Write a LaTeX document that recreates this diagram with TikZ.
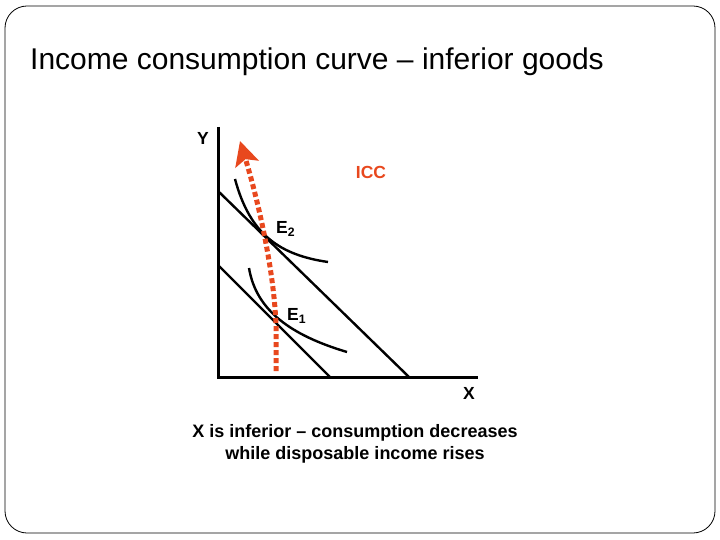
\documentclass[tikz,border=0pt]{standalone}
\usepackage{fontspec}
\setmainfont{Liberation Sans}
\usetikzlibrary{arrows.meta}
\definecolor{iccred}{RGB}{232,72,30}
\begin{document}
\begin{tikzpicture}[x=1pt, y=-1pt, >=Stealth,
    axis/.style={line width=3pt},
    budget/.style={line width=2.4pt},
    indiff/.style={line width=2.4pt},
    lbl/.style={font=\fontsize{17.5}{20}\selectfont\bfseries, inner sep=0pt}]
        \useasboundingbox (0,0) rectangle (720,540);
        \draw[line width=0.8pt, rounded corners=22pt] (5,6) rectangle (715,533);
        \node[anchor=base west, inner sep=0pt, font=\fontsize{30}{33}\selectfont] (title) at (30,70) {Income consumption curve -- inferior goods};
        % axes
        \coordinate (origin) at (218,377);
        \coordinate (ytop) at (218,127);
        \coordinate (xend) at (478,377);
        \draw[axis] (ytop) -- (origin) -- (xend);
        \node[lbl] (ylab) at (203,138) {Y};
        \node[lbl] (xlab) at (469,393) {X};
        % budget lines
        \coordinate (b2y) at (218,191);
        \coordinate (b2x) at (409,377);
        \coordinate (b1y) at (218,265);
        \coordinate (b1x) at (330,377);
        \draw[budget] (b2y) -- (b2x);
        \draw[budget] (b1y) -- (b1x);
        % indifference curves
        \draw[indiff] (235,179) .. controls (250,235) and (280,255) .. (328,262);
        \draw[indiff] (249,268) .. controls (256,310) and (290,335) .. (347,352);
        \node[lbl, anchor=west] (e2) at (276,229) {E\textsubscript{2}};
        \node[lbl, anchor=west] (e1) at (287,316) {E\textsubscript{1}};
        % income consumption curve
        \coordinate (iccstart) at (276,371);
        \coordinate (icctip) at (240,141);
        \draw[iccred, line width=5pt, dash pattern=on 5pt off 3pt, -{Stealth[length=24pt, width=24pt, inset=5pt]}]
            (iccstart) -- (276,325) .. controls (274,270) and (258,200) .. (icctip);
        \node[lbl, text=iccred] (icc) at (371,172) {ICC};
        \node[lbl, align=center, font=\fontsize{18}{22}\selectfont\bfseries] (caption) at (355,444) {X is inferior -- consumption decreases\\while disposable income rises};
    \end{tikzpicture}
\end{document}
